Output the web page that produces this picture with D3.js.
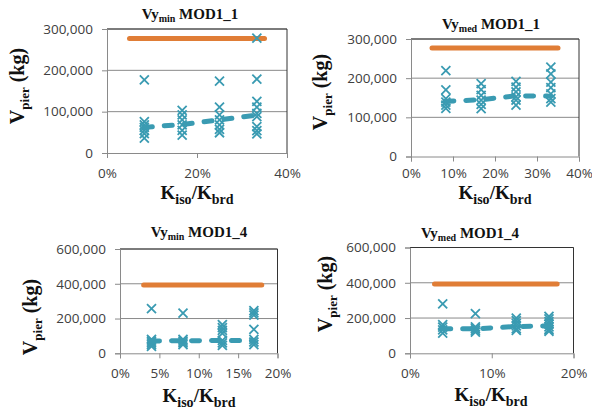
<!DOCTYPE html>
<html>
<head>
<meta charset="utf-8">
<script src="https://cdn.jsdelivr.net/npm/d3@7"></script>
<style>
  body { margin:0; background:#fff; }
  text { font-family:"Open Sans", sans-serif; }
  .serif { font-family:"Liberation Serif", "Times New Roman", serif; font-weight:bold; fill:#111; }
</style>
</head>
<body>
<div id="content"></div>
<script>
// Kiso/Kbrd of the runs
const ratiosMOD1_1 = [0.083, 0.167, 0.25, 0.333];
const ratiosMOD1_4 = [0.04, 0.08, 0.13, 0.17];

// Vpier (kg) of every run, one list per ratio
const vpierMinMOD1_1 = [
    [177000, 76000, 68000, 62000, 55000, 47000, 36000],
    [103000, 92000, 80000, 68000, 55000, 43000],
    [174000, 111000, 92000, 80000, 68000, 57000, 49000],
    [278000, 179000, 125000, 111000, 96000, 88000, 64000, 54000, 46000]
];
const vpierMedMOD1_1 = [
    [219000, 170000, 148000, 139000, 131000, 123000],
    [186000, 171000, 156000, 144000, 133000, 122000],
    [192000, 177000, 165000, 152000, 144000, 131000],
    [228000, 211000, 190000, 176000, 160000, 148000, 139000]
];
const vpierMinMOD1_4 = [
    [257000, 80000, 70000, 60000, 50000, 40000],
    [231000, 80000, 70000, 60000, 50000],
    [165000, 148000, 132000, 115000, 75000, 60000, 45000],
    [245000, 232000, 220000, 138000, 80000, 65000, 50000]
];
const vpierMedMOD1_4 = [
    [280000, 162000, 149000, 133000, 114000],
    [225000, 150000, 140000, 130000, 120000],
    [200000, 185000, 170000, 155000, 140000, 130000],
    [210000, 195000, 180000, 165000, 150000, 135000, 125000]
];

// dashed trend (mean per ratio)
const trendMinMOD1_1 = [62000, 69000, 80000, 92000];
const trendMedMOD1_1 = [141000, 145000, 155000, 154000];
const trendMinMOD1_4 = [71000, 72000, 74000, 74000];
const trendMedMOD1_4 = [139000, 139000, 152000, 155000];

// pier capacity (orange line)
const capacityMOD1_1 = 277000;
const capacityMOD1_4 = 393000;
const capacitySpanMOD1_1 = [0.05, 0.35];
const capacitySpanMOD1_4 = [0.03, 0.18];

// ticks
const yTicksMOD1_1 = [0, 100000, 200000, 300000];
const yTicksMOD1_4 = [0, 200000, 400000, 600000];
const xTicksTL = [0, 0.2, 0.4];
const xTicksTR = [0, 0.1, 0.2, 0.3, 0.4];
const xTicksBL = [0, 0.05, 0.1, 0.15, 0.2];
const xTicksBR = [0, 0.1, 0.2];

const W = 592, H = 411;
const TEAL = "#3a9bb2", ORANGE = "#e07d36", AXIS = "#8a8a8a";

const svg = d3.select("#content").append("svg")
    .attr("width", W).attr("height", H);

function drawPanel(p){
    const x = d3.scaleLinear().domain([0, p.xTicks[p.xTicks.length-1]]).range([p.left, p.right]);
    const y = d3.scaleLinear().domain([0, p.yTicks[p.yTicks.length-1]]).range([p.bottom, p.top]);
    const g = svg.append("g");

    // gridlines
    g.selectAll(".grid").data(p.yTicks.slice(1)).enter()
        .append("line")
        .attr("x1", p.left).attr("x2", p.right)
        .attr("y1", d=>y(d)).attr("y2", d=>y(d))
        .attr("stroke", AXIS).attr("stroke-width", 1);

    // frame top/right
    g.append("path")
        .attr("d", `M${p.left},${p.top}H${p.right}V${p.bottom}`)
        .attr("fill", "none").attr("stroke", "#333").attr("stroke-width", 1);

    // axes
    const ya = g.append("g").attr("transform", `translate(${p.left},0)`)
        .call(d3.axisLeft(y).tickValues(p.yTicks).tickSize(5).tickPadding(9).tickFormat(d3.format(",")));
    const xa = g.append("g").attr("transform", `translate(0,${p.bottom})`)
        .call(d3.axisBottom(x).tickValues(p.xTicks).tickSize(5).tickPadding(p.xPad).tickFormat(d3.format(".0%")));
    [ya, xa].forEach(a => {
        a.select(".domain").attr("stroke", AXIS);
        a.selectAll(".tick line").attr("stroke", AXIS);
        a.selectAll(".tick text").attr("fill", "#404040")
            .style("font-size", "13.5px").style("font-family", "'Open Sans', sans-serif");
    });

    // capacity line
    g.append("line")
        .attr("x1", x(p.capSpan[0])).attr("x2", x(p.capSpan[1]))
        .attr("y1", y(p.capacity)).attr("y2", y(p.capacity))
        .attr("stroke", ORANGE).attr("stroke-width", 5).attr("stroke-linecap", "round");

    // X markers
    const pts = [];
    p.values.forEach((list, i) => list.forEach(v => pts.push({ r: p.ratios[i], v: v })));
    g.selectAll(".pt").data(pts).enter()
        .append("path")
        .attr("transform", d => `translate(${x(d.r)},${y(d.v)})`)
        .attr("d", "M-4.5,-4.5L4.5,4.5M-4.5,4.5L4.5,-4.5")
        .attr("fill", "none").attr("stroke", TEAL).attr("stroke-width", 1.8);

    // dashed trend
    const line = d3.line().x(d=>x(d.r)).y(d=>y(d.v));
    g.append("path")
        .attr("d", line(p.trend.map((v, i) => ({ r: p.ratios[i], v: v }))))
        .attr("fill", "none").attr("stroke", TEAL).attr("stroke-width", 5)
        .attr("stroke-linecap", "round").attr("stroke-dasharray", "8,12");

    // title
    const t = g.append("text").attr("class", "serif")
        .attr("x", p.titlePos[0]).attr("y", p.titlePos[1])
        .attr("text-anchor", "middle").style("font-size", "15px");
    t.append("tspan").text("Vy");
    t.append("tspan").text(p.title[0]).attr("dy", 3).style("font-size", "10px");
    t.append("tspan").text(" " + p.title[1]).attr("dy", -3);

    // y title
    const yt = g.append("text").attr("class", "serif")
        .attr("transform", `translate(${p.yTitlePos[0]},${p.yTitlePos[1]}) rotate(-90)`)
        .attr("text-anchor", "middle").style("font-size", "20px");
    yt.append("tspan").text("V");
    yt.append("tspan").text("pier").attr("dy", 5).style("font-size", "13px");
    yt.append("tspan").text(" (kg)").attr("dy", -5);

    // x title
    const xt = g.append("text").attr("class", "serif")
        .attr("x", p.xTitlePos[0]).attr("y", p.xTitlePos[1])
        .attr("text-anchor", "middle").style("font-size", "19px");
    xt.append("tspan").text("K");
    xt.append("tspan").text("iso").attr("dy", 5).style("font-size", "14px");
    xt.append("tspan").text("/K").attr("dy", -5);
    xt.append("tspan").text("brd").attr("dy", 5).style("font-size", "14px");
}

drawPanel({ left:107, right:287, top:29, bottom:153, xPad:10,
    xTicks:xTicksTL, yTicks:yTicksMOD1_1, ratios:ratiosMOD1_1, values:vpierMinMOD1_1, trend:trendMinMOD1_1,
    capacity:capacityMOD1_1, capSpan:capacitySpanMOD1_1, title:["min","MOD1_1"],
    titlePos:[190,19], yTitlePos:[24,86], xTitlePos:[197,199] });
drawPanel({ left:411, right:579, top:39, bottom:156.5, xPad:7,
    xTicks:xTicksTR, yTicks:yTicksMOD1_1, ratios:ratiosMOD1_1, values:vpierMedMOD1_1, trend:trendMedMOD1_1,
    capacity:capacityMOD1_1, capSpan:capacitySpanMOD1_1, title:["med","MOD1_1"],
    titlePos:[491,29], yTitlePos:[327,92], xTitlePos:[495,199] });
drawPanel({ left:120, right:277.5, top:249, bottom:353.3, xPad:10,
    xTicks:xTicksBL, yTicks:yTicksMOD1_4, ratios:ratiosMOD1_4, values:vpierMinMOD1_4, trend:trendMinMOD1_4,
    capacity:capacityMOD1_4, capSpan:capacitySpanMOD1_4, title:["min","MOD1_4"],
    titlePos:[199,237], yTitlePos:[37,317], xTitlePos:[199,402] });
drawPanel({ left:410, right:573.5, top:247.5, bottom:353.3, xPad:10,
    xTicks:xTicksBR, yTicks:yTicksMOD1_4, ratios:ratiosMOD1_4, values:vpierMedMOD1_4, trend:trendMedMOD1_4,
    capacity:capacityMOD1_4, capSpan:capacitySpanMOD1_4, title:["med","MOD1_4"],
    titlePos:[470,238], yTitlePos:[332,294], xTitlePos:[491,401] });
</script>
</body>
</html>
